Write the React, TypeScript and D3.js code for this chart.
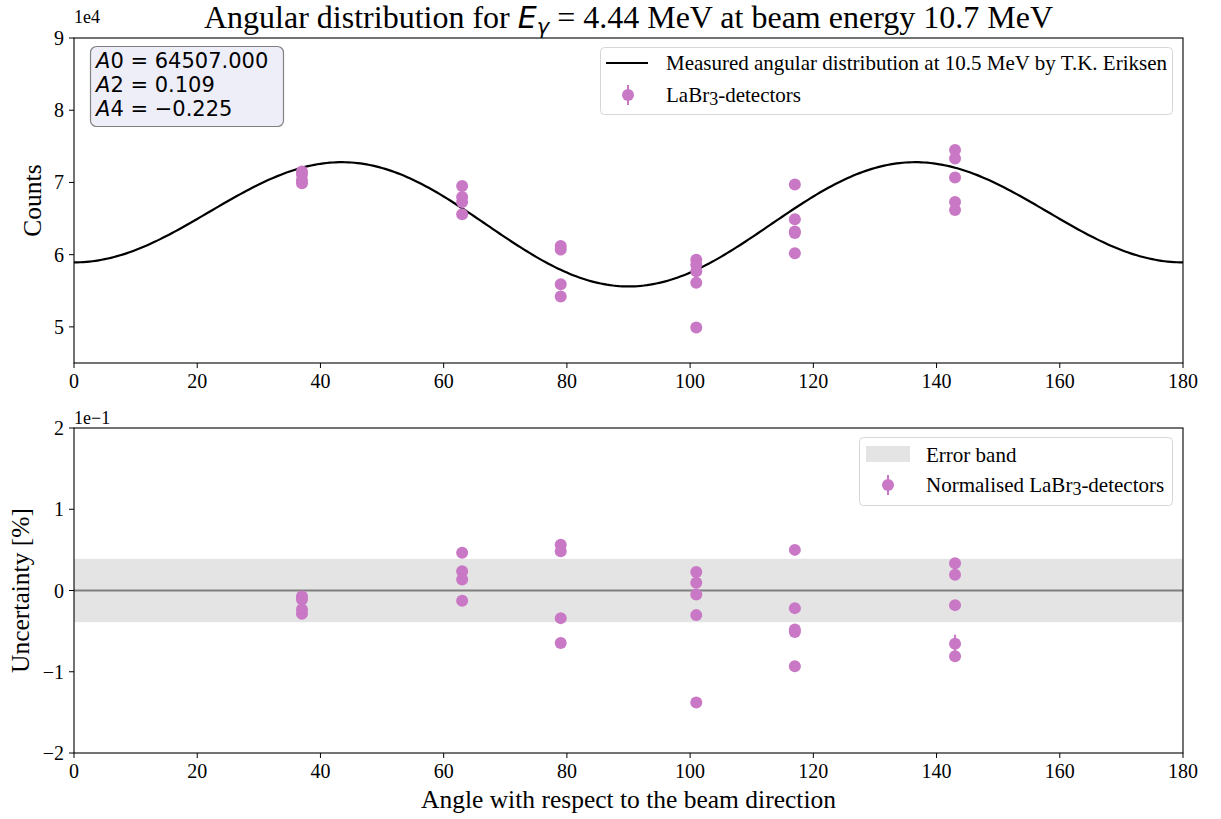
import React from "react";
import * as d3 from "d3";

// ---------- data ----------
const angles = [37, 63, 79, 101, 117, 143];
const counts37 = [71500, 71100, 70300, 69900];
const counts63 = [69500, 68000, 67300, 65600];
const counts79 = [61200, 60700, 55900, 54200];
const counts101 = [59300, 58600, 57700, 56100, 49900];
const counts117 = [69700, 64900, 63200, 63000, 60200];
const counts143 = [74500, 73300, 70700, 67300, 66200];
const countsByAngle = [counts37, counts63, counts79, counts101, counts117, counts143];

const unc37 = [-0.0074, -0.011, -0.0233, -0.0286];
const unc63 = [0.0466, 0.0237, 0.0135, -0.0126];
const unc79 = [0.0564, 0.0482, -0.034, -0.0647];
const unc101 = [0.0229, 0.0094, -0.0049, -0.0303, -0.1378];
const unc117 = [0.05, -0.0217, -0.0479, -0.0512, -0.0933];
const unc143 = [0.0335, 0.0193, -0.018, -0.0654, -0.081];
const uncByAngle = [unc37, unc63, unc79, unc101, unc117, unc143];
const uncErr143 = [0.004, 0.004, 0.004, 0.011, 0.004];

const errorBand = 0.039;

// Legendre coefficients of the plotted curve and the fit box text
const CURVE_A0 = 64975;
const CURVE_A2 = 0.125;
const CURVE_A4 = -0.218;
const boxLines = ["64507.000", "0.109", "\u22120.225"];
const boxNames = ["A0", "A2", "A4"];

const xTicks = [0, 20, 40, 60, 80, 100, 120, 140, 160, 180];
const yTopTicks = [5, 6, 7, 8, 9];
const yBotTicks = [-2, -1, 0, 1, 2];

const COLOR = "#c978c5";
const SERIF = "'Liberation Serif', 'Times New Roman', serif";
const SANS = "'DejaVu Sans', sans-serif";

export default function App() {
  const W = 1221, H = 819;
  const L = 74, R = 1183;
  const topT = 38, topB = 363;
  const botT = 428, botB = 753;

  const x = d3.scaleLinear().domain([0, 180]).range([L, R]);
  const yTop = d3.scaleLinear().domain([45000, 90000]).range([topB, topT]);
  const yBot = d3.scaleLinear().domain([-0.2, 0.2]).range([botB, botT]);

  const P2 = (c: number) => (3 * c * c - 1) / 2;
  const P4 = (c: number) => (35 * c ** 4 - 30 * c * c + 3) / 8;
  const W_ = (deg: number) => {
    const c = Math.cos((deg * Math.PI) / 180);
    return CURVE_A0 * (1 + CURVE_A2 * P2(c) + CURVE_A4 * P4(c));
  };
  const thetas = d3.range(0, 180.25, 0.5);
  const curvePath = d3
    .line<number>()
    .x((t) => x(t))
    .y((t) => yTop(W_(t)))
    .curve(d3.curveLinear)(thetas) as string;

  const tickFont = 20;
  const legFont = 21;
  const labFont = 25.5;

  const xAxis = (yb: number) =>
    xTicks.map((t) => (
      <g key={"xt" + yb + t}>
        <line x1={x(t)} x2={x(t)} y1={yb} y2={yb + 5} stroke="#000" strokeWidth={1} />
        <text x={x(t)} y={yb + 25} textAnchor="middle" fontFamily={SERIF} fontSize={tickFont}>
          {t}
        </text>
      </g>
    ));

  return (
    <svg width={W} height={H} style={{ display: "block", position: "absolute", left: 0, top: 0 }}>
      <rect x={0} y={0} width={W} height={H} fill="#fff" />
      {/* Title */}
      <text x={(L + R) / 2} y={28} textAnchor="middle" fontFamily={SERIF} fontSize={32}>
        <tspan>Angular distribution for </tspan>
        <tspan fontFamily={SANS} fontStyle="italic" fontSize={30}>E</tspan>
        <tspan fontFamily={SANS} fontStyle="italic" fontSize={21} dy={6}>γ</tspan>
        <tspan dy={-6}> = 4.44 MeV at beam energy 10.7 MeV</tspan>
      </text>

      {/* ---------- Top panel ---------- */}
      <defs>
        <clipPath id="clipTop">
          <rect x={L} y={topT} width={R - L} height={topB - topT} />
        </clipPath>
      </defs>
      <path d={curvePath} fill="none" stroke="#000" strokeWidth={2.2} clipPath="url(#clipTop)" />
      {angles.map((a, i) =>
        countsByAngle[i].map((v, j) => (
          <g key={"tp" + i + "_" + j}>
            <line x1={x(a)} x2={x(a)} y1={yTop(v + Math.sqrt(v))} y2={yTop(v - Math.sqrt(v))} stroke={COLOR} strokeWidth={2} />
            <circle cx={x(a)} cy={yTop(v)} r={6} fill={COLOR} />
          </g>
        ))
      )}
      <rect x={L} y={topT} width={R - L} height={topB - topT} fill="none" stroke="#000" strokeWidth={1.1} />
      {xAxis(topB)}
      {yTopTicks.map((t) => (
        <g key={"yt" + t}>
          <line x1={L - 5} x2={L} y1={yTop(t * 10000)} y2={yTop(t * 10000)} stroke="#000" />
          <text x={L - 10} y={yTop(t * 10000) + 7} textAnchor="end" fontFamily={SERIF} fontSize={tickFont}>
            {t}
          </text>
        </g>
      ))}
      <text x={L} y={topT - 15} fontFamily={SERIF} fontSize={18}>1e4</text>
      <text
        transform={`translate(${41},${(topT + topB) / 2}) rotate(-90)`}
        textAnchor="middle"
        fontFamily={SERIF}
        fontSize={labFont}
      >
        Counts
      </text>

      {/* Fit box */}
      <rect x={90.5} y={46.5} width={193} height={80} rx={6} fill="#eeeef9" stroke="#808080" strokeWidth={1.2} />
      {boxLines.map((v, i) => (
        <text key={"bl" + i} x={96} y={68 + i * 24} fontFamily={SANS} fontSize={21}>
          <tspan fontStyle="italic">{boxNames[i][0]}</tspan>
          <tspan>{boxNames[i].slice(1)}</tspan>
          <tspan>{" = "}</tspan>
          <tspan>{v}</tspan>
        </text>
      ))}

      {/* Top legend */}
      <rect x={600.5} y={47.5} width={572} height={67} rx={4} fill="#fff" fillOpacity={0.8} stroke="#d6d6d6" strokeWidth={1} />
      <line x1={606} x2={648} y1={63} y2={63} stroke="#000" strokeWidth={2.2} />
      <text x={666} y={70} fontFamily={SERIF} fontSize={legFont}>
        Measured angular distribution at 10.5 MeV by T.K. Eriksen
      </text>
      <line x1={628} x2={628} y1={85} y2={105} stroke={COLOR} strokeWidth={2} />
      <circle cx={628} cy={95} r={6} fill={COLOR} />
      <text x={666} y={102} fontFamily={SERIF} fontSize={legFont}>
        <tspan>LaBr</tspan>
        <tspan fontSize={18} dy={3}>3</tspan>
        <tspan dy={-3}>-detectors</tspan>
      </text>

      {/* ---------- Bottom panel ---------- */}
      <rect x={L} y={yBot(errorBand)} width={R - L} height={yBot(-errorBand) - yBot(errorBand)} fill="#e4e4e4" />
      <line x1={L} x2={R} y1={yBot(0)} y2={yBot(0)} stroke="#7f7f7f" strokeWidth={2} />
      {angles.map((a, i) =>
        uncByAngle[i].map((v, j) => {
          const e = i === 5 ? uncErr143[j] : 0.004;
          return (
            <g key={"bp" + i + "_" + j}>
              <line x1={x(a)} x2={x(a)} y1={yBot(v + e)} y2={yBot(v - e)} stroke={COLOR} strokeWidth={2} />
              <circle cx={x(a)} cy={yBot(v)} r={6} fill={COLOR} />
            </g>
          );
        })
      )}
      <rect x={L} y={botT} width={R - L} height={botB - botT} fill="none" stroke="#000" strokeWidth={1.1} />
      {xAxis(botB)}
      {yBotTicks.map((t) => (
        <g key={"yb" + t}>
          <line x1={L - 5} x2={L} y1={yBot(t / 10)} y2={yBot(t / 10)} stroke="#000" />
          <text x={L - 10} y={yBot(t / 10) + 7} textAnchor="end" fontFamily={SERIF} fontSize={tickFont}>
            {t < 0 ? "\u2212" + Math.abs(t) : String(t)}
          </text>
        </g>
      ))}
      <text x={L} y={botT - 4} fontFamily={SERIF} fontSize={18}>{"1e\u22121"}</text>
      <text
        transform={`translate(${29},${(botT + botB) / 2}) rotate(-90)`}
        textAnchor="middle"
        fontFamily={SERIF}
        fontSize={labFont}
      >
        Uncertainty [%]
      </text>
      <text x={(L + R) / 2} y={808} textAnchor="middle" fontFamily={SERIF} fontSize={labFont}>
        Angle with respect to the beam direction
      </text>

      {/* Bottom legend */}
      <rect x={859.5} y={437.5} width={313} height={68} rx={4} fill="#fff" fillOpacity={0.8} stroke="#d6d6d6" strokeWidth={1} />
      <rect x={866} y={446} width={44} height={16} fill="#e4e4e4" />
      <text x={926} y={462} fontFamily={SERIF} fontSize={legFont}>Error band</text>
      <line x1={888} x2={888} y1={475} y2={495} stroke={COLOR} strokeWidth={2} />
      <circle cx={888} cy={485} r={6} fill={COLOR} />
      <text x={926} y={492} fontFamily={SERIF} fontSize={legFont}>
        <tspan>Normalised LaBr</tspan>
        <tspan fontSize={18} dy={3}>3</tspan>
        <tspan dy={-3}>-detectors</tspan>
      </text>
    </svg>
  );
}
